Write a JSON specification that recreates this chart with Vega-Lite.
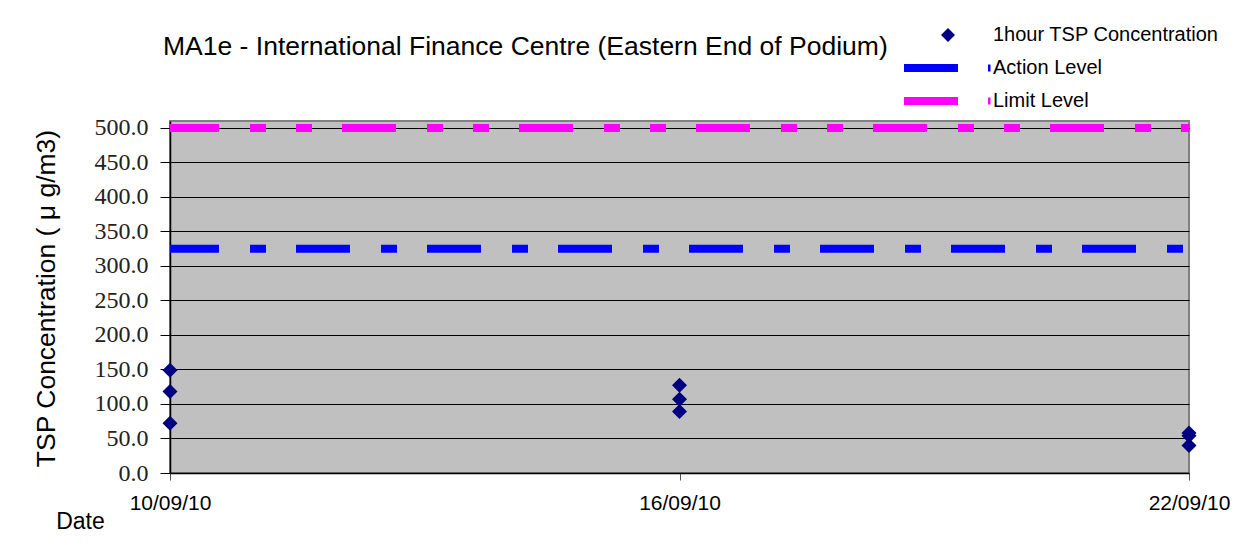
{
  "$schema": "https://vega.github.io/schema/vega-lite/v6.json",
  "autosize": {"type": "none"},
  "padding": {"left": 170, "top": 121, "right": 58, "bottom": 81},
  "width": 1019,
  "height": 352,
  "background": "white",
  "title": {
    "text": "MA1e - International Finance Centre (Eastern End of Podium)",
    "anchor": "start",
    "frame": "group",
    "font": "Liberation Sans",
    "fontSize": 26.5,
    "fontWeight": "normal",
    "color": "#000000",
    "dx": -7,
    "dy": 56,
    "offset": 0,
    "baseline": "alphabetic"
  },
  "config": {
    "view": {"fill": "#C0C0C0", "stroke": "#808080", "strokeWidth": 2},
    "axisX": {
      "labelExpr": "utcFormat(datum.value, '%d/%m/%y')",
      "grid": false,
      "domainColor": "#000000",
      "domainWidth": 1.5,
      "tickColor": "#555555",
      "tickSize": 7,
      "tickWidth": 1,
      "labelFont": "Liberation Sans",
      "labelFontSize": 21,
      "labelColor": "#000000",
      "labelPadding": 12,
      "labelFlush": false,
      "labelOverlap": false,
      "titleFont": "Liberation Sans",
      "titleFontSize": 23,
      "titleFontWeight": "normal",
      "titleColor": "#000000",
      "titleX": -90,
      "titleY": 55,
      "titleAlign": "center",
      "titleBaseline": "alphabetic"
    },
    "axisY": {
      "values": [0, 50, 100, 150, 200, 250, 300, 350, 400, 450, 500],
      "labelExpr": "format(datum.value, '.1f')",
      "grid": true,
      "gridColor": "#000000",
      "gridWidth": 1,
      "domainColor": "#000000",
      "domainWidth": 1.5,
      "tickColor": "#000000",
      "tickSize": 10,
      "labelFont": "Liberation Serif",
      "labelFontSize": 24,
      "labelColor": "#222222",
      "labelPadding": 12,
      "labelFlush": false,
      "labelOverlap": false,
      "titleFont": "Liberation Sans",
      "titleFontSize": 26.5,
      "titleFontWeight": "normal",
      "titleColor": "#000000",
      "titleX": -116,
      "titleY": 177,
      "titleAlign": "center",
      "titleBaseline": "alphabetic",
      "titleAngle": -90
    }
  },
  "datasets": {
    "tsp": [
      {"date": "2010-09-10", "series": "1hour TSP Concentration", "value": 149},
      {"date": "2010-09-10", "series": "1hour TSP Concentration", "value": 118},
      {"date": "2010-09-10", "series": "1hour TSP Concentration", "value": 72},
      {"date": "2010-09-16", "series": "1hour TSP Concentration", "value": 127},
      {"date": "2010-09-16", "series": "1hour TSP Concentration", "value": 107},
      {"date": "2010-09-16", "series": "1hour TSP Concentration", "value": 89},
      {"date": "2010-09-22", "series": "1hour TSP Concentration", "value": 58},
      {"date": "2010-09-22", "series": "1hour TSP Concentration", "value": 54},
      {"date": "2010-09-22", "series": "1hour TSP Concentration", "value": 40}
    ],
    "levels": [
      {"level": "Action Level", "value": 325},
      {"level": "Limit Level", "value": 500}
    ]
  },
  "layer": [
    {
      "data": {"name": "tsp"},
      "mark": {"type": "point", "shape": "diamond", "filled": true, "size": 225, "opacity": 1, "strokeWidth": 0},
      "encoding": {
        "x": {
          "field": "date",
          "type": "temporal",
          "title": "Date",
          "scale": {"type": "utc", "domain": [{"year": 2010, "month": "sep", "date": 10, "utc": true}, {"year": 2010, "month": "sep", "date": 22, "utc": true}]},
          "axis": {"values": [
            {"year": 2010, "month": "sep", "date": 10, "utc": true},
            {"year": 2010, "month": "sep", "date": 16, "utc": true},
            {"year": 2010, "month": "sep", "date": 22, "utc": true}
          ]}
        },
        "y": {
          "field": "value",
          "type": "quantitative",
          "title": "TSP Concentration ( μ g/m3)",
          "scale": {"domain": [0, 510], "nice": false, "zero": true}
        },
        "color": {
          "field": "series",
          "type": "nominal",
          "scale": {
            "domain": ["1hour TSP Concentration", "Action Level", "Limit Level"],
            "range": ["#000080", "#0000FF", "#FF00FF"]
          },
          "legend": {
            "title": null,
            "orient": "none",
            "legendX": 751,
            "legendY": -96,
            "padding": 0,
            "symbolSize": 400,
            "symbolOpacity": 1,
            "symbolStrokeWidth": 0,
            "labelOffset": 52,
            "labelFont": "Liberation Sans",
            "labelFontSize": 20,
            "labelColor": "#000000",
            "labelLimit": 400,
            "rowPadding": 13,
            "encode": {
              "symbols": {
                "update": {
                  "shape": {"signal": "datum.value === '1hour TSP Concentration' ? 'M1.7,-0.7L2.4,0L1.7,0.7L1,0Z' : 'M-2.7,-0.4H2.7V0.4H-2.7Z M5.7,-0.35H5.95V0.35H5.7Z'"},
                  "opacity": {"value": 1}
                }
              }
            }
          }
        }
      }
    },
    {
      "data": {"name": "levels"},
      "transform": [{"filter": "datum.level === 'Action Level'"}],
      "mark": {"type": "rule", "color": "#0000FF", "strokeWidth": 8, "strokeCap": "butt", "strokeDash": [54, 31, 16, 30], "strokeDashOffset": 5},
      "encoding": {
        "x": {
          "datum": {"year": 2010, "month": "sep", "date": 10, "utc": true},
          "type": "temporal",
          "title": "Date",
          "axis": {"values": [
            {"year": 2010, "month": "sep", "date": 10, "utc": true},
            {"year": 2010, "month": "sep", "date": 16, "utc": true},
            {"year": 2010, "month": "sep", "date": 22, "utc": true}
          ]}
        },
        "x2": {"datum": {"year": 2010, "month": "sep", "date": 22, "utc": true}},
        "y": {"field": "value", "type": "quantitative", "title": "TSP Concentration ( μ g/m3)"}
      }
    },
    {
      "data": {"name": "levels"},
      "transform": [{"filter": "datum.level === 'Limit Level'"}],
      "mark": {"type": "rule", "color": "#FF00FF", "strokeWidth": 8, "strokeCap": "butt", "strokeDash": [54, 31, 16, 30, 16, 30], "strokeDashOffset": 5},
      "encoding": {
        "x": {
          "datum": {"year": 2010, "month": "sep", "date": 10, "utc": true},
          "type": "temporal",
          "title": "Date",
          "axis": {"values": [
            {"year": 2010, "month": "sep", "date": 10, "utc": true},
            {"year": 2010, "month": "sep", "date": 16, "utc": true},
            {"year": 2010, "month": "sep", "date": 22, "utc": true}
          ]}
        },
        "x2": {"datum": {"year": 2010, "month": "sep", "date": 22, "utc": true}},
        "y": {"field": "value", "type": "quantitative", "title": "TSP Concentration ( μ g/m3)"}
      }
    }
  ]
}
